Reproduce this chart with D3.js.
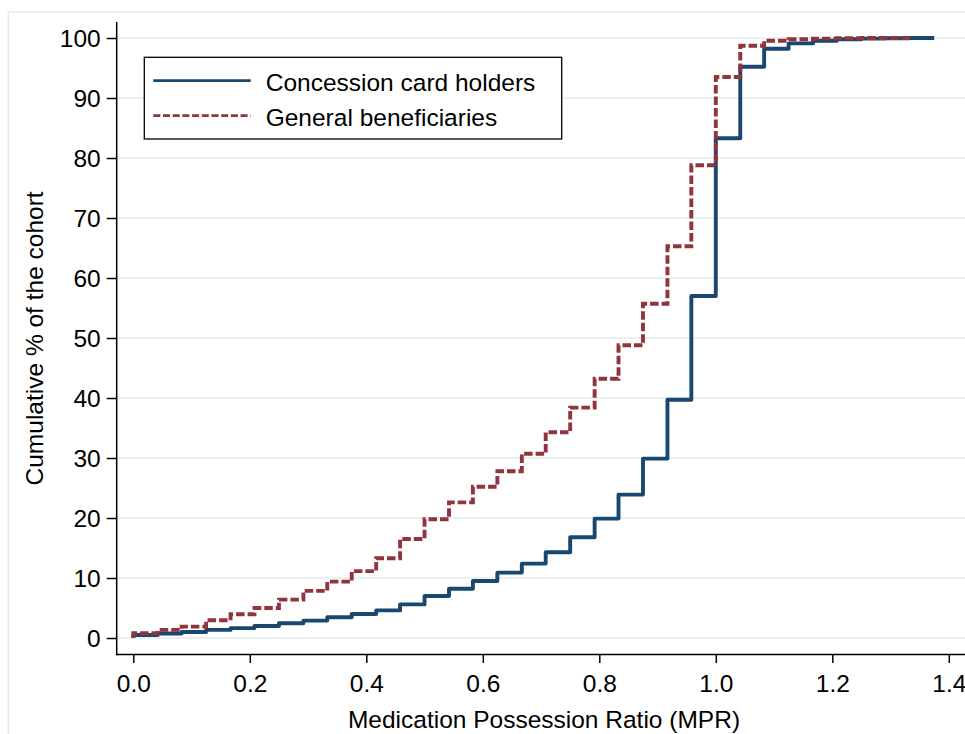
<!DOCTYPE html>
<html>
<head>
<meta charset="utf-8">
<script src="https://cdn.jsdelivr.net/npm/d3@7"></script>
<style>
  html, body { margin: 0; padding: 0; background: #fff; }
  svg { display: block; font-family: "Liberation Sans", Arial, Helvetica, sans-serif; }
</style>
</head>
<body>
<svg id="chart" width="965" height="734"></svg>
<script>
// ---- data ----
const mprBreaks = [0, 0.042, 0.083, 0.125, 0.167, 0.208, 0.25, 0.292, 0.333, 0.375, 0.417, 0.458,
  0.5, 0.542, 0.583, 0.625, 0.667, 0.708, 0.75, 0.792, 0.833, 0.875, 0.917, 0.958,
  1.0, 1.042, 1.083, 1.125, 1.167, 1.208, 1.25, 1.292, 1.333, 1.375];
const concessionCum = [0.5, 0.75, 1.0, 1.35, 1.65, 2.0, 2.45, 2.9, 3.45, 4.0, 4.6, 5.6,
  7.0, 8.2, 9.5, 10.9, 12.4, 14.3, 16.8, 19.9, 23.9, 29.9, 39.7, 57.0,
  83.3, 95.2, 98.2, 99.1, 99.55, 99.8, 99.9, 99.95, 100, 100];
const generalCum = [0.8, 1.35, 1.9, 2.95, 3.95, 5.0, 6.4, 7.85, 9.4, 11.15, 13.3, 16.5,
  19.8, 22.6, 25.2, 27.8, 30.7, 34.3, 38.4, 43.2, 48.8, 55.7, 65.3, 78.8,
  93.5, 98.7, 99.55, 99.8, 99.9, 99.95, 100, 100, 100];
const seriesNames = ["Concession card holders", "General beneficiaries"];
const xTicks = [0, 0.2, 0.4, 0.6, 0.8, 1.0, 1.2, 1.4];
const yTicks = [0, 10, 20, 30, 40, 50, 60, 70, 80, 90, 100];
const xTitle = "Medication Possession Ratio (MPR)";
const yTitle = "Cumulative % of the cohort";

// ---- layout ----
const svg = d3.select("#chart");
const W = 965, H = 734;
const axisX = 116.7, axisY = 654.5, axisTop = 22;
const x = d3.scaleLinear().domain([0, 1.4]).range([133.3, 948.8]);
const y = d3.scaleLinear().domain([0, 100]).range([638, 38]);
const blue = "#1a476f", red = "#90353b";
const FONT = 24.5;

// outer light frame
svg.append("path")
  .attr("d", `M8.3,${H + 5} L8.3,11.7 L${W + 5},11.7`)
  .attr("fill", "none").attr("stroke", "#e4ecef").attr("stroke-width", 1.5);

// gridlines
svg.append("g").selectAll("line").data(yTicks).join("line")
  .attr("x1", axisX).attr("x2", W)
  .attr("y1", d => y(d)).attr("y2", d => y(d))
  .attr("stroke", "#eaf1f3").attr("stroke-width", 2);

// axes
const yAxis = d3.axisLeft(y).tickValues(yTicks).tickSize(10).tickPadding(6).tickFormat(d3.format("d"));
const gy = svg.append("g").attr("transform", `translate(${axisX},0)`).call(yAxis);
gy.select(".domain").remove();
gy.selectAll(".tick line").attr("stroke", "#000").attr("stroke-width", 1.5);
gy.selectAll(".tick text").attr("font-size", FONT).attr("fill", "#000")
  .attr("font-family", "Liberation Sans, Arial, sans-serif").attr("dy", "0.36em");

const xAxis = d3.axisBottom(x).tickValues(xTicks).tickSize(8.5).tickPadding(12).tickFormat(d3.format(".1f"));
const gx = svg.append("g").attr("transform", `translate(0,${axisY})`).call(xAxis);
gx.select(".domain").remove();
gx.selectAll(".tick line").attr("stroke", "#000").attr("stroke-width", 1.5);
gx.selectAll(".tick text").attr("font-size", FONT).attr("fill", "#000")
  .attr("font-family", "Liberation Sans, Arial, sans-serif").attr("dy", "0.71em");

svg.append("line").attr("x1", axisX).attr("x2", axisX).attr("y1", axisTop).attr("y2", axisY + 0.75)
  .attr("stroke", "#000").attr("stroke-width", 1.5);
svg.append("line").attr("x1", axisX - 0.75).attr("x2", W).attr("y1", axisY).attr("y2", axisY)
  .attr("stroke", "#000").attr("stroke-width", 1.5);

// titles
svg.append("text").attr("x", 544).attr("y", 728.3).attr("text-anchor", "middle")
  .attr("font-size", FONT).text(xTitle);
svg.append("text").attr("transform", `translate(43,338.4) rotate(-90)`).attr("text-anchor", "middle")
  .attr("font-size", FONT).text(yTitle);

// step lines
const line = d3.line().x(d => x(d[0])).y(d => y(d[1])).curve(d3.curveStepAfter);
const bluePts = [[mprBreaks[0], 0]].concat(concessionCum.map((v, i) => [mprBreaks[i], v]));
const redPts = [[mprBreaks[0], 0]].concat(generalCum.map((v, i) => [mprBreaks[i], v]));

svg.append("path").attr("d", line(bluePts)).attr("fill", "none")
  .attr("stroke", blue).attr("stroke-width", 3.9).attr("stroke-linejoin", "round");
svg.append("path").attr("d", line(redPts)).attr("fill", "none")
  .attr("stroke", red).attr("stroke-width", 3.9).attr("stroke-dasharray", "8.5,3");

// legend
const lg = svg.append("g");
lg.append("rect").attr("x", 144.3).attr("y", 57.3).attr("width", 417.4).attr("height", 81.7)
  .attr("fill", "#fff").attr("stroke", "#000").attr("stroke-width", 1.3);
const legendRows = [
  { name: seriesNames[0], color: blue, dash: null, ly: 80.7, ty: 90.7 },
  { name: seriesNames[1], color: red, dash: "7,2.7", ly: 115.7, ty: 125.7 }
];
legendRows.forEach(r => {
  lg.append("line").attr("x1", 153.3).attr("x2", 250.7).attr("y1", r.ly).attr("y2", r.ly)
    .attr("stroke", r.color).attr("stroke-width", 2.8).attr("stroke-dasharray", r.dash);
  lg.append("text").attr("x", 265.7).attr("y", r.ty).attr("font-size", FONT).text(r.name);
});
</script>
</body>
</html>
